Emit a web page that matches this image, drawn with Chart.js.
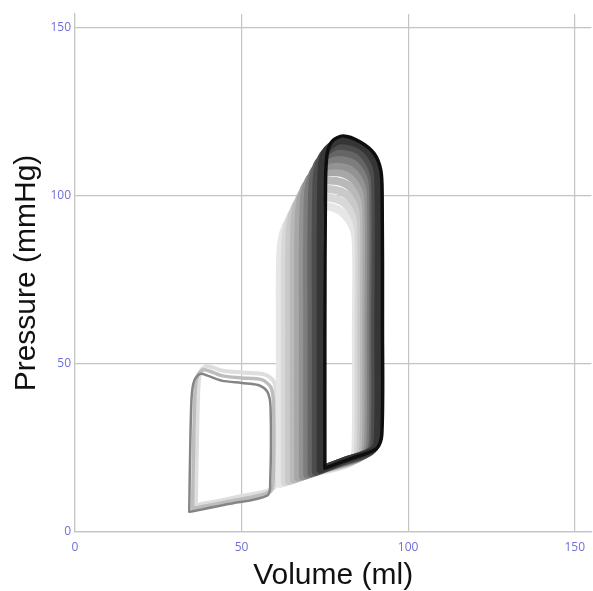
<!DOCTYPE html>
<html>
<head>
<meta charset="utf-8">
<script src="https://cdn.jsdelivr.net/npm/chart.js@4.4.1/dist/chart.umd.min.js"></script>
<style>
  body { margin: 0; background: #fff; }
  #wrap { width: 593px; height: 591px; }
</style>
</head>
<body>
<div id="wrap"><canvas id="pvChart"></canvas></div>
<script>
'use strict';
// pressure-volume loops, [volume ml, pressure mmHg], earliest first
let smallLoopA = [[36.3,8],[48,10.3],[59.6,13],[60.4,17],[60.5,39],[59.8,44.5],[57,46.8],[50,47.4],[44,48],[41,49],[39.2,49.2],[37.6,47.5],[37,42],[36.5,20],[36.3,8]];
let smallLoopB = [[35.3,7],[47,9.3],[58.6,12],[59.5,16],[59.6,38],[58.8,43],[56,45.3],[50,45.8],[44,46.5],[40.5,47.8],[38.4,48.2],[36.7,46.3],[36,41],[35.5,20],[35.3,7]];
let smallLoopC = [[34.3,6],[46,8.3],[57.8,10.9],[58.6,15],[58.7,37],[57.8,41.6],[55,43.7],[50,44.3],[44,45],[40,46.4],[37.6,47],[35.8,45],[35,40],[34.5,20],[34.3,6]];

let loop1 = [[61.5,14.3],[72,17.6],[83,20.8],[84.2,25],[84.3,60],[84.3,86],[83,91.5],[79,95.8],[73,97],[67,95.2],[63.3,91],[61.7,84],[61.5,60],[61.5,14.3]];
let loop2 = [[63,14.8],[73,18],[83.8,21.3],[85,25.5],[85.1,60],[85.1,88.5],[83.8,94],[80,98.3],[74,99.5],[68.5,98],[64.8,94],[63.2,87],[63,60],[63,14.8]];
let loop3 = [[64.3,15.2],[74,18.4],[84.6,21.7],[85.8,26],[85.9,60],[85.9,91],[84.6,96.5],[80.8,100.8],[75,102],[69.8,100.6],[66.1,96.8],[64.5,89.5],[64.3,60],[64.3,15.2]];
let loop4 = [[65.7,15.7],[75,18.8],[85.4,22.1],[86.6,26.4],[86.7,60],[86.7,93.5],[85.4,99],[81.6,103.3],[76,104.5],[71.1,103.1],[67.5,99.5],[65.9,92],[65.7,60],[65.7,15.7]];
let loop5 = [[67,16.2],[76,19.2],[86.1,22.5],[87.3,26.8],[87.4,60],[87.4,96],[86.1,101.5],[82.3,105.8],[77,107],[72.4,105.7],[68.8,102.2],[67.2,94.5],[67,60],[67,16.2]];
let loop6 = [[68.4,16.6],[77,19.6],[86.8,22.9],[88,27.2],[88.1,60],[88.1,98],[86.8,103.5],[83,107.8],[77.7,109],[73.6,107.8],[70.1,104.5],[68.6,97],[68.4,60],[68.4,16.6]];
let loop7 = [[69.7,17.1],[78,20],[87.5,23.3],[88.7,27.6],[88.8,60],[88.8,100],[87.5,105.5],[83.7,109.8],[78.3,111],[74.6,109.9],[71.4,106.8],[69.9,99.5],[69.7,60],[69.7,17.1]];
let loop8 = [[71,17.5],[79,20.4],[88.2,23.7],[89.4,28],[89.5,60],[89.5,102],[88.2,107.5],[84.4,111.8],[78.9,113],[75.6,112],[72.7,109.2],[71.2,102],[71,60],[71,17.5]];
let loop9 = [[72.3,17.9],[80,20.8],[88.8,24],[90,28.3],[90.1,60],[90.1,103.5],[88.8,109],[85,113.5],[79.5,114.8],[76.6,113.9],[74,111.3],[72.5,104.5],[72.3,60],[72.3,17.9]];
let loop10 = [[73.6,18.4],[81,21.3],[89.6,24.5],[90.8,28.8],[90.9,60],[90.9,105],[89.6,110.5],[85.6,114.8],[80,116.3],[77.2,115.2],[74.8,112.5],[73.8,106],[73.6,60],[73.6,18.4]];
let finalLoop = [[75,19],[83,21.9],[90.5,24.8],[92.1,29],[92.3,60],[92.2,100],[91.8,107.5],[89.8,112.5],[85.5,116],[80.5,117.7],[77.3,116.3],[75.7,112.5],[75.2,104],[75,60],[75,19]];

let xTicks = [0, 50, 100, 150];
let yTicks = [0, 50, 100, 150];

let loops = [smallLoopA, smallLoopB, smallLoopC, loop1, loop2, loop3, loop4, loop5, loop6, loop7, loop8, loop9, loop10, finalLoop];
let loopColors = ['#dedede', '#bdbdbd', '#858585', '#e6e6e6', '#d8d8d8', '#c9c9c9', '#b9b9b9', '#a7a7a7', '#939393', '#7d7d7d', '#656565', '#4d4d4d', '#363636', '#0e0e0e'];
let loopWidths = [4, 3.5, 2.5, 8, 8, 8, 8, 8, 8, 8, 8, 8, 7, 3.5];

let datasets = [];
for (let i = 0; i < loops.length; i++) {
    datasets.push({
        data: loops[i].map(function (pt) { return { x: pt[0], y: pt[1] }; }),
        showLine: true,
        fill: false,
        borderColor: loopColors[i],
        borderWidth: loopWidths[i],
        borderJoinStyle: 'round',
        borderCapStyle: 'round',
        tension: 0.3,
        pointRadius: 0,
        order: loops.length - i
    });
}

let tickColor = '#6e6ed8';
let gridColor = '#c4c4c4';

function setTicks(list) {
    return function (scale) {
        scale.ticks = list.map(function (v) { return { value: v }; });
    };
}

let ctx = document.getElementById('pvChart').getContext('2d');
let pvChart = new Chart(ctx, {
    type: 'scatter',
    data: { datasets: datasets },
    options: {
        responsive: true,
        maintainAspectRatio: false,
        animation: false,
        layout: { padding: { top: 14, right: 0, left: 0, bottom: 0 } },
        plugins: { legend: { display: false }, tooltip: { enabled: false } },
        scales: {
            x: {
                type: 'linear',
                min: 0,
                max: 155,
                afterBuildTicks: setTicks(xTicks),
                afterFit: function (scale) { scale.height = 59; },
                ticks: { color: tickColor, font: { family: 'Open Sans', size: 12 }, padding: 8, maxRotation: 0, autoSkip: false },
                grid: { color: gridColor, lineWidth: 1.2, drawTicks: false },
                border: { color: gridColor, width: 1.2 },
                title: { display: true, text: 'Volume (ml)', color: '#111', font: { family: 'Liberation Sans', size: 30, lineHeight: 1 }, padding: 0 }
            },
            y: {
                type: 'linear',
                min: 0,
                max: 154,
                afterBuildTicks: setTicks(yTicks),
                afterFit: function (scale) { scale.width = 75; },
                ticks: { color: tickColor, font: { family: 'Open Sans', size: 12 }, padding: 4, autoSkip: false },
                grid: { color: gridColor, lineWidth: 1.2, drawTicks: false },
                border: { color: gridColor, width: 1.2 },
                title: { display: true, text: 'Pressure (mmHg)', color: '#111', font: { family: 'Liberation Sans', size: 30, lineHeight: 1 }, padding: { top: 12, bottom: 0 } }
            }
        }
    }
});
</script>
</body>
</html>
